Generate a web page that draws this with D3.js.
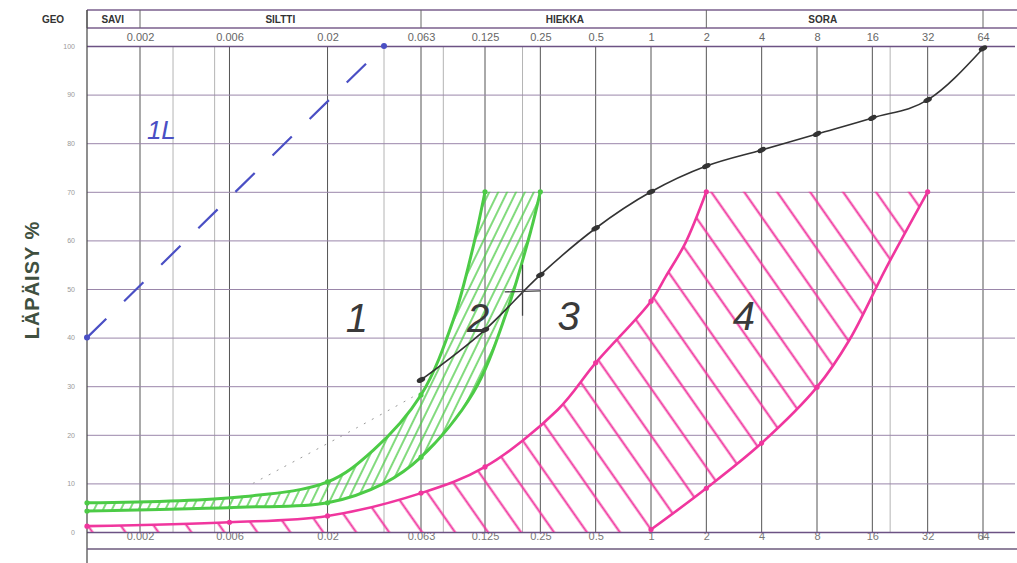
<!DOCTYPE html>
<html>
<head>
<meta charset="utf-8">
<script src="https://cdn.jsdelivr.net/npm/d3@7"></script>
<style>
  body { margin: 0; background: #fff; }
  svg { display: block; }
</style>
</head>
<body>
<div id="chart"></div>
<script>
// --- data ---
const sieveSizes = [0.002, 0.006, 0.02, 0.063, 0.125, 0.25, 0.5, 1, 2, 4, 8, 16, 32, 64];
const sieveLabels = ["0.002", "0.006", "0.02", "0.063", "0.125", "0.25", "0.5", "1", "2", "4", "8", "16", "32", "64"];
const minorSizes = [0.003, 0.005, 0.04, 0.08, 0.2, 20];
const passTicks = [0, 10, 20, 30, 40, 50, 60, 70, 80, 90, 100];
const fractionNames = ["SAVI", "SILTTI", "HIEKKA", "SORA"];
const fractionLimits = [0.001, 0.002, 0.063, 2, 64];
const fractionLabelSize = [0.0014, 0.0112, 0.34, 8.6];

// measured sample (black)
const sampleSize = [0.063, 0.125, 0.25, 0.5, 1, 2, 4, 8, 16, 32, 64];
const samplePass = [31.3, 41.6, 52.9, 62.5, 70, 75.3, 78.6, 81.9, 85.2, 88.9, 99.5];

// "1L" dashed line (blue)
const lineSize = [0.001, 0.04];
const linePass = [40, 100];

// zone 2 limits (green)
const greenUpperSize = [0.001, 0.0068, 0.02, 0.035, 0.063, 0.089, 0.11, 0.125];
const greenUpperPass = [6.0, 7.2, 10.3, 16.8, 28.2, 43.6, 58.6, 70];
const greenLowerSize = [0.001, 0.0068, 0.02, 0.04, 0.063, 0.11, 0.163, 0.222, 0.25];
const greenLowerPass = [4.3, 5.1, 6.0, 10.0, 15.4, 28.6, 45, 62, 70];

// zone 4 limits (magenta)
const pinkUpperSize = [0.001, 0.006, 0.02, 0.063, 0.125, 0.31, 0.5, 1, 1.2, 1.54, 2];
const pinkUpperPass = [1.2, 2.0, 3.3, 8.0, 13.4, 25.1, 34.8, 47.5, 52.5, 59.5, 70];
const pinkLowerSize = [1, 2, 4, 8, 12, 19, 32];
const pinkLowerPass = [0.5, 9, 18.3, 29.8, 39.5, 54.3, 70];

// faint pencil trace
const traceSize = [0.008, 0.0285, 0.057];
const tracePass = [10, 21.4, 27.8];

// handwritten zone numbers
const zoneLabels = ["1", "2", "3", "4"];
const zoneLabelSize = [0.0287, 0.116, 0.356, 3.2];
const zoneLabelPass = [44, 44, 44.5, 44.5];

// --- layout ---
const W = 1017, H = 563;
const left = 87, plotTop = 46, plotBottom = 532;
const headTop = 10, headMid = 28;

const svg = d3.select("#chart").append("svg")
    .attr("width", W)
    .attr("height", H)
    .style("font-family", "'Liberation Sans', Arial, sans-serif");

// the printed scale is log-like but not perfectly even, so anchor it at a few sieve sizes
const x = d3.scaleLog()
    .domain([0.001, 0.002, 0.063, 0.125, 64, 100])
    .range([left, 140, 421, 485, 983, 1019]);
const y = d3.scaleLinear().domain([0, 100]).range([plotBottom, plotTop]);

// hatch patterns
const defs = svg.append("defs");
function hatch(id, color, gap, angle, width) {
    const p = defs.append("pattern")
        .attr("id", id)
        .attr("patternUnits", "userSpaceOnUse")
        .attr("width", gap)
        .attr("height", gap)
        .attr("patternTransform", `rotate(${angle})`);
    p.append("line")
        .attr("x1", gap / 2).attr("y1", 0)
        .attr("x2", gap / 2).attr("y2", gap)
        .attr("stroke", color)
        .attr("stroke-width", width);
}
const green = "#4ccb46";
const pink = "#f0369e";
hatch("hatchGreen", green, 8, 26, 1.4);
hatch("hatchPink", pink, 27, -35, 2);

// --- header (fraction names + sieve labels) ---
const head = svg.append("g");
[headTop, headMid].forEach(yy => {
    head.append("line")
        .attr("x1", left).attr("x2", W)
        .attr("y1", yy).attr("y2", yy)
        .attr("stroke", "#7a5f8c").attr("stroke-width", 1.3);
});
head.selectAll(".sep")
    .data(fractionLimits)
    .enter().append("line")
    .attr("x1", d => x(d)).attr("x2", d => x(d))
    .attr("y1", headTop).attr("y2", headMid)
    .attr("stroke", "#666").attr("stroke-width", 1);
head.selectAll(".frac")
    .data(fractionNames)
    .enter().append("text")
    .attr("x", (d, i) => x(fractionLabelSize[i]))
    .attr("y", 23)
    .attr("text-anchor", "middle")
    .attr("font-size", 10)
    .attr("font-weight", "bold")
    .attr("fill", "#333")
    .text(d => d);
head.append("text")
    .attr("x", 53).attr("y", 23)
    .attr("text-anchor", "middle")
    .attr("font-size", 10).attr("font-weight", "bold")
    .attr("fill", "#333")
    .text("GEO");

// sieve labels, top and bottom
const topAxis = d3.axisTop(x).tickValues(sieveSizes)
    .tickFormat((d, i) => sieveLabels[i]).tickSize(0).tickPadding(0);
svg.append("g").attr("transform", `translate(0,${headMid + 13})`).call(topAxis)
    .call(g => g.select(".domain").remove())
    .selectAll("text").attr("font-size", 11).attr("fill", "#666")
    .attr("font-family", "'Liberation Sans', Arial, sans-serif");
const bottomAxis = d3.axisBottom(x).tickValues(sieveSizes)
    .tickFormat((d, i) => sieveLabels[i]).tickSize(0).tickPadding(0);
svg.append("g").attr("transform", `translate(0,${plotBottom})`).call(bottomAxis)
    .call(g => g.select(".domain").remove())
    .selectAll("text").attr("font-size", 11).attr("fill", "#777")
    .attr("font-family", "'Liberation Sans', Arial, sans-serif");

// --- grid ---
const grid = svg.append("g");
grid.selectAll(".minor")
    .data(minorSizes)
    .enter().append("line")
    .attr("x1", d => x(d)).attr("x2", d => x(d))
    .attr("y1", plotTop).attr("y2", plotBottom)
    .attr("stroke", "#b4b4b4").attr("stroke-width", 1);
grid.selectAll(".major")
    .data(sieveSizes)
    .enter().append("line")
    .attr("x1", d => x(d)).attr("x2", d => x(d))
    .attr("y1", plotTop).attr("y2", plotBottom)
    .attr("stroke", "#555").attr("stroke-width", 1);
grid.append("line")
    .attr("x1", x(64)).attr("x2", x(64))
    .attr("y1", plotBottom).attr("y2", plotBottom + 8)
    .attr("stroke", "#555");

const yAxis = d3.axisLeft(y).tickValues(passTicks).tickSize(-(1015 - left)).tickPadding(12);
svg.append("g").attr("transform", `translate(${left},0)`).call(yAxis)
    .call(g => g.select(".domain").remove())
    .call(g => g.selectAll("line")
        .attr("stroke", d => (d === 0 || d === 100) ? "#6c5284" : "#9a86aa")
        .attr("stroke-width", d => (d === 0 || d === 100) ? 1.5 : 1))
    .call(g => g.selectAll("text")
        .attr("font-size", 7).attr("fill", "#999")
        .attr("font-family", "'Liberation Sans', Arial, sans-serif"));

// frame lines
svg.append("line").attr("x1", left).attr("x2", left)
    .attr("y1", headTop).attr("y2", H).attr("stroke", "#444").attr("stroke-width", 1.2);
svg.append("line").attr("x1", left).attr("x2", W)
    .attr("y1", 549).attr("y2", 549).attr("stroke", "#6c5a7c").attr("stroke-width", 1.3);

svg.append("text")
    .attr("transform", "translate(39,280) rotate(-90)")
    .attr("text-anchor", "middle")
    .attr("font-size", 20)
    .attr("font-weight", "bold")
    .attr("letter-spacing", 1)
    .attr("fill", "#405040")
    .text("LÄPÄISY  %");

// --- zones ---
const curve = d3.line()
    .x(d => x(d[0]))
    .y(d => y(d[1]))
    .curve(d3.curveCatmullRom.alpha(0.5));
const pts = (xs, ys) => xs.map((v, i) => [v, ys[i]]);

const greenUpper = pts(greenUpperSize, greenUpperPass);
const greenLower = pts(greenLowerSize, greenLowerPass);
const pinkUpper = pts(pinkUpperSize, pinkUpperPass);
const pinkLower = pts(pinkLowerSize, pinkLowerPass);

// closed outlines: upper limit, along 70 %, lower limit back down
const pinkOutline = curve(pinkUpper) + "L" + curve(pinkLower.slice().reverse()).slice(1)
    + `L${x(1)},${y(0)}L${x(0.001)},${y(0)}Z`;
const greenOutline = curve(greenUpper) + "L" + curve(greenLower.slice().reverse()).slice(1) + "Z";

svg.append("path").attr("d", pinkOutline).attr("fill", "url(#hatchPink)");
svg.append("path").attr("d", greenOutline).attr("fill", "url(#hatchGreen)");

[[pinkUpper, pink], [pinkLower, pink], [greenUpper, green], [greenLower, green]].forEach(([p, c]) => {
    svg.append("path")
        .datum(p)
        .attr("d", curve)
        .attr("fill", "none")
        .attr("stroke", c)
        .attr("stroke-width", c === green ? 3 : 2.6)
        .attr("stroke-linecap", "round");
    svg.selectAll(null)
        .data(p.filter(d => sieveSizes.includes(d[0]) || d[0] === 0.001))
        .enter().append("circle")
        .attr("cx", d => x(d[0])).attr("cy", d => y(d[1]))
        .attr("r", 2.6)
        .attr("fill", c);
});

// faint pencil trace
svg.append("path")
    .datum(pts(traceSize, tracePass))
    .attr("d", curve)
    .attr("fill", "none")
    .attr("stroke", "#999")
    .attr("stroke-width", 1)
    .attr("stroke-dasharray", "2,7");

// --- sample curve ---
const sample = pts(sampleSize, samplePass);
svg.append("path")
    .datum(sample)
    .attr("d", d3.line().x(d => x(d[0])).y(d => y(d[1])).curve(d3.curveMonotoneX))
    .attr("fill", "none")
    .attr("stroke", "#333")
    .attr("stroke-width", 1.6);
svg.selectAll(".pt")
    .data(sample)
    .enter().append("ellipse")
    .attr("cx", d => x(d[0])).attr("cy", d => y(d[1]))
    .attr("rx", 4.5).attr("ry", 2.5)
    .attr("transform", d => `rotate(-25,${x(d[0])},${y(d[1])})`)
    .attr("fill", "#333");

// hand-drawn cross on the sample line
const cross = svg.append("g").attr("stroke", "#444").attr("stroke-width", 1.3);
cross.append("line").attr("x1", x(0.2)).attr("x2", x(0.2)).attr("y1", y(55)).attr("y2", y(44.5));
cross.append("line").attr("x1", x(0.16)).attr("x2", x(0.25)).attr("y1", y(49.4)).attr("y2", y(49.6));

// --- 1L line ---
const blue = "#4a4fc4";
svg.append("path")
    .datum(pts(lineSize, linePass))
    .attr("d", d3.line().x(d => x(d[0])).y(d => y(d[1])))
    .attr("stroke", blue)
    .attr("stroke-width", 2.2)
    .attr("stroke-dasharray", "27,25")
    .attr("fill", "none");
svg.selectAll(".lp")
    .data(pts(lineSize, linePass))
    .enter().append("circle")
    .attr("cx", d => x(d[0])).attr("cy", d => y(d[1]))
    .attr("r", 3).attr("fill", blue);
svg.append("text")
    .attr("x", x(0.0026)).attr("y", y(82.7) + 9)
    .attr("text-anchor", "middle")
    .attr("font-size", 26)
    .attr("font-style", "italic")
    .attr("fill", blue)
    .text("1L");

// zone numbers
svg.selectAll(".zl")
    .data(zoneLabels)
    .enter().append("text")
    .attr("x", (d, i) => x(zoneLabelSize[i]))
    .attr("y", (d, i) => y(zoneLabelPass[i]) + 14)
    .attr("text-anchor", "middle")
    .attr("font-size", 40)
    .attr("font-style", "italic")
    .attr("font-weight", 300)
    .attr("fill", "#3a3a3a")
    .text(d => d);
</script>
</body>
</html>
